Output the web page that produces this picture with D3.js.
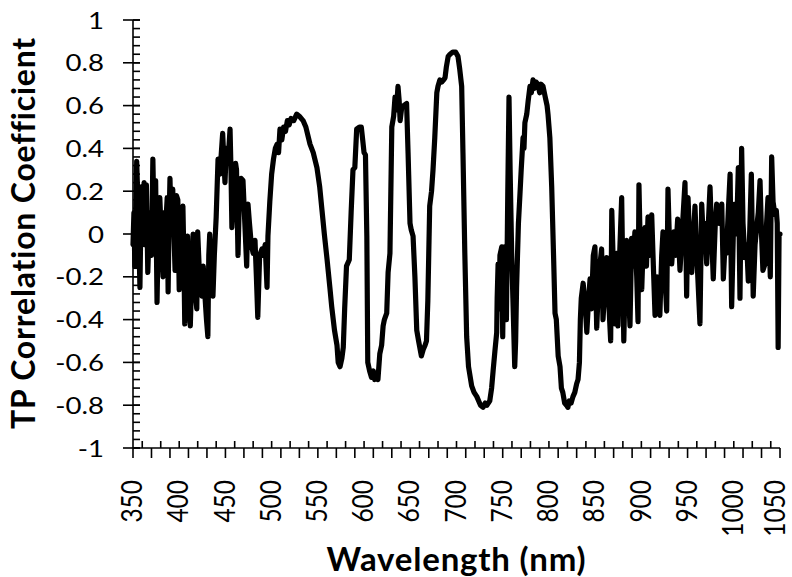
<!DOCTYPE html>
<html lang="en">
<head>
    <meta charset="UTF-8">
    <title>TP Correlation Coefficient</title>
    <script src="https://d3js.org/d3.v7.min.js"></script>
</head>

<style type="text/css">
    body {
        margin: 0;
        background-color: white;
    }
    text {
        font-family: Lato, "Open Sans", sans-serif;
        fill: black;
    }
</style>
<body>
<div id="chart"></div>

<script>
    // wavelength (nm) and correlation coefficient
    var wavelength = [
        350, 351, 352, 354, 356, 357.5, 359, 360.5, 362, 363,
        364.5, 366, 368, 370, 371.5, 373, 374.5, 376, 377.5, 379,
        381, 382.5, 384, 385.5, 387, 388, 389, 390, 391.5, 393,
        394, 395.5, 397, 398.5, 400, 402, 404, 405, 406, 407.5,
        409, 410.5, 412, 413.5, 415, 417, 419, 420, 422, 424.5,
        426, 428, 429.5, 431, 432, 433, 435, 436.5, 438, 440,
        442, 444, 447, 448.5, 449.5, 451, 453, 455, 456, 457,
        459, 461, 462, 463.6, 465, 467, 469, 471, 473, 474.4,
        476, 478, 480, 482, 483.5, 485, 487, 489.6, 491, 493,
        495, 496, 498, 500, 502, 504, 506, 507.5, 509, 511,
        513, 515, 517, 519, 521, 524, 527, 530, 534, 537,
        541.5, 545, 549, 552, 554.5, 557, 560, 563, 565, 568,
        570.7, 572, 574, 576, 577.5, 579, 581, 584, 586, 588,
        590, 592, 595, 597, 598.5, 600, 601.5, 603, 604, 606,
        608, 610, 611.5, 613.6, 615, 617, 619, 620.6, 622, 624.5,
        626, 628, 630, 632, 633.5, 635, 636.7, 638, 639, 640.7,
        643, 646, 647.6, 649.7, 651, 653, 655, 657, 659, 662,
        664, 666, 667.5, 669, 671, 673, 674.6, 676.5, 678.7, 680,
        682, 684, 686, 687.6, 689, 691, 693, 696, 699, 701.6,
        703.5, 705.6, 707, 709, 711, 713, 716.4, 719, 722, 724,
        726, 728.7, 731, 733, 736, 738, 739.6, 741.5, 743.5, 744,
        745, 746, 747, 749, 750, 751, 752, 753, 754, 755.5,
        756.8, 758, 759.7, 761, 763, 764, 765, 767, 768.7, 770,
        772, 773, 774, 776, 777.5, 779.5, 781, 782.8, 784, 786,
        788, 790, 791.5, 793.6, 796, 798, 799, 801, 803, 805,
        806.6, 808, 810, 812, 813.5, 815, 817, 819, 820.5, 822,
        824, 826, 828, 830, 831.5, 833, 834, 835, 837, 839,
        841, 843, 844.5, 846, 848, 849.8, 851.7, 853.5, 855, 857,
        858.5, 860.5, 862.5, 864.5, 866.8, 868, 870, 871.5, 873.3, 874.7,
        876.5, 878.7, 881, 882.5, 884, 886, 887.7, 889.5, 891, 893,
        895, 896.4, 897.4, 899, 900.4, 902, 904, 905.5, 907.2, 909,
        911.2, 913, 914.8, 917, 920, 922, 923.4, 925.5, 927.4, 928.8,
        930.5, 932.8, 935.3, 937, 939.3, 941.8, 944, 947.2, 949, 950.5,
        952.5, 954.5, 956, 958, 960, 963.4, 965.3, 967, 968.5, 970.7,
        972.5, 974.3, 976, 977.8, 980, 981.5, 984, 987, 988.7, 990.5,
        992, 994, 996, 997.7, 999.5, 1001.3, 1003, 1004.9, 1006.7, 1008.5,
        1010, 1012, 1014, 1015.7, 1017.5, 1019, 1021, 1023, 1024.8, 1026.5,
        1028.4, 1030, 1031.5, 1033.8, 1035.5, 1037, 1038.5, 1039.5, 1041, 1042.5,
        1044.5, 1046, 1047, 1048, 1049, 1050
    ];

    var coeff = [
        -0.05, 0.10, -0.15, 0.34, 0.05, -0.25, 0.22, 0.0, 0.24, -0.05,
        0.23, -0.18, 0.10, -0.10, 0.35, 0.0, 0.25, -0.32, 0.05, 0.17,
        -0.05, -0.20, 0.10, 0.05, 0.17, -0.27, 0.05, 0.26, 0.0, 0.21,
        0.05, -0.17, 0.18, 0.16, -0.26, 0.05, 0.13, -0.10, -0.42, -0.10,
        -0.01, -0.30, -0.43, -0.20, 0.0, -0.25, -0.35, 0.01, -0.20, -0.29,
        -0.15, -0.30, -0.40, -0.48, -0.10, 0.0, -0.25, -0.29, -0.10, 0.08,
        0.35, 0.28, 0.47, 0.33, 0.24, 0.40, 0.35, 0.49, 0.30, 0.03,
        0.20, 0.33, 0.30, -0.10, 0.15, 0.26, 0.25, 0.05, -0.15, 0.14,
        0.05, -0.05, -0.09, -0.03, -0.20, -0.39, -0.10, -0.07, -0.10, -0.05,
        -0.25, -0.01, 0.15, 0.28, 0.35, 0.40, 0.42, 0.38, 0.49, 0.44,
        0.50, 0.48, 0.53, 0.51, 0.54, 0.53, 0.56, 0.55, 0.53, 0.50,
        0.42, 0.38, 0.31, 0.22, 0.11, 0.0, -0.12, -0.25, -0.34, -0.45,
        -0.52, -0.60, -0.62, -0.58, -0.53, -0.35, -0.15, -0.12, 0.10, 0.30,
        0.31, 0.49, 0.50, 0.50, 0.44, 0.38, 0.37, -0.01, -0.60, -0.64,
        -0.67, -0.64, -0.68, -0.66, -0.68, -0.56, -0.52, -0.43, -0.40, -0.37,
        -0.18, -0.09, 0.50, 0.55, 0.64, 0.58, 0.69, 0.62, 0.53, 0.59,
        0.60, 0.61, 0.38, 0.05, 0.02, -0.01, -0.20, -0.45, -0.50, -0.57,
        -0.54, -0.52, -0.50, -0.31, 0.13, 0.20, 0.30, 0.45, 0.66, 0.69,
        0.72, 0.71, 0.72, 0.73, 0.78, 0.83, 0.84, 0.85, 0.85, 0.83,
        0.77, 0.69, 0.38, -0.09, -0.48, -0.62, -0.71, -0.74, -0.76, -0.78,
        -0.80, -0.81, -0.79, -0.80, -0.78, -0.72, -0.64, -0.55, -0.46, -0.30,
        -0.14, -0.35, -0.10, -0.06, -0.48, -0.15, -0.06, -0.25, -0.40, 0.20,
        0.64, 0.30, -0.09, -0.30, -0.62, -0.50, -0.25, 0.05, 0.19, 0.30,
        0.45, 0.40, 0.52, 0.56, 0.62, 0.69, 0.66, 0.72, 0.68, 0.71,
        0.70, 0.66, 0.70, 0.69, 0.64, 0.60, 0.56, 0.45, 0.22, -0.10,
        -0.37, -0.40, -0.57, -0.62, -0.72, -0.74, -0.79, -0.80, -0.81, -0.78,
        -0.79, -0.76, -0.74, -0.70, -0.68, -0.60, -0.40, -0.30, -0.23, -0.32,
        -0.46, -0.30, -0.21, -0.35, -0.10, -0.06, -0.44, -0.25, -0.15, -0.07,
        -0.40, -0.25, -0.11, -0.30, -0.50, 0.11, -0.20, -0.42, -0.09, -0.43,
        -0.10, 0.17, -0.50, -0.20, -0.03, -0.25, -0.43, -0.02, -0.15, 0.01,
        -0.20, -0.41, 0.23, -0.10, -0.26, -0.05, 0.03, -0.15, 0.08, -0.10,
        0.09, -0.15, -0.38, -0.20, -0.38, -0.10, 0.01, -0.20, -0.36, 0.21,
        -0.05, -0.14, 0.01, -0.10, 0.07, -0.17, 0.0, 0.24, -0.29, 0.17,
        -0.05, -0.18, -0.05, 0.13, -0.10, -0.42, 0.14, -0.02, 0.05, -0.14,
        0.05, 0.22, 0.0, -0.21, 0.05, 0.14, 0.05, 0.14, -0.21, -0.05,
        -0.09, 0.10, 0.28, -0.34, 0.0, 0.14, 0.0, 0.31, -0.30, 0.40,
        0.05, -0.11, -0.05, -0.22, 0.05, 0.28, -0.29, -0.05, 0.03, 0.10,
        0.25, 0.0, -0.17, -0.14, 0.05, 0.17, -0.05, -0.20, 0.36, 0.15,
        0.09, 0.11, 0.05, -0.53, 0.0, 0.0
    ];

    var xTickLabels = [350, 400, 450, 500, 550, 600, 650, 700, 750, 800, 850, 900, 950, 1000, 1050];
    var yTickValues = [-1, -0.8, -0.6, -0.4, -0.2, 0, 0.2, 0.4, 0.6, 0.8, 1];
    var yTickLabels = ["-1", "-0.8", "-0.6", "-0.4", "-0.2", "0", "0.2", "0.4", "0.6", "0.8", "1"];

    if (wavelength.length != coeff.length) console.error("length mismatch", wavelength.length, coeff.length);

    var width = 792;
    var height = 577;
    var plotLeft = 133, plotRight = 780, plotTop = 20, plotBottom = 448;

    var svg = d3.select("#chart").append("svg")
        .attr("width", width).attr("height", height);

    var x = d3.scaleLinear().domain([350, 1050]).range([plotLeft, plotRight]);
    var y = d3.scaleLinear().domain([-1, 1]).range([plotBottom, plotTop]);

    var axisColor = "black";
    var axisWidth = 1.6;

    // y axis
    var yaxis = svg.append("g");
    yaxis.append("line")
        .attr("x1", plotLeft).attr("x2", plotLeft)
        .attr("y1", y(1)).attr("y2", y(-1))
        .style("stroke", axisColor).style("stroke-width", axisWidth);

    yaxis.selectAll(".yminor")
        .data(d3.range(-25, 26).map(function (i) { return i * 0.04; }))
        .enter().append("line").attr("class", "yminor")
        .attr("x1", plotLeft).attr("x2", plotLeft + 7)
        .attr("y1", function (d) { return y(d); })
        .attr("y2", function (d) { return y(d); })
        .style("stroke", axisColor).style("stroke-width", axisWidth);

    yaxis.selectAll(".ymajor")
        .data(yTickValues)
        .enter().append("line").attr("class", "ymajor")
        .attr("x1", plotLeft - 10).attr("x2", plotLeft + 7)
        .attr("y1", function (d) { return y(d); })
        .attr("y2", function (d) { return y(d); })
        .style("stroke", axisColor).style("stroke-width", axisWidth);

    yaxis.selectAll(".ylabel")
        .data(yTickValues)
        .enter().append("text").attr("class", "ylabel")
        .attr("transform", function (d) { return "translate(104," + y(d) + ") scale(1.15,1)"; })
        .attr("dy", "0.36em")
        .style("text-anchor", "end")
        .style("font-size", "24px")
        .text(function (d, i) { return yTickLabels[i]; });

    // x axis
    var xaxis = svg.append("g");
    xaxis.append("line")
        .attr("x1", x(350)).attr("x2", x(1050))
        .attr("y1", plotBottom).attr("y2", plotBottom)
        .style("stroke", axisColor).style("stroke-width", axisWidth);

    xaxis.selectAll(".xminor")
        .data(d3.range(360, 1050, 20))
        .enter().append("line").attr("class", "xminor")
        .attr("x1", function (d) { return x(d); })
        .attr("x2", function (d) { return x(d); })
        .attr("y1", plotBottom).attr("y2", plotBottom - 7)
        .style("stroke", axisColor).style("stroke-width", axisWidth);

    xaxis.selectAll(".xmajor")
        .data(d3.range(350, 1051, 20))
        .enter().append("line").attr("class", "xmajor")
        .attr("x1", function (d) { return x(d); })
        .attr("x2", function (d) { return x(d); })
        .attr("y1", plotBottom).attr("y2", plotBottom + 10)
        .style("stroke", axisColor).style("stroke-width", axisWidth);

    // last label sits a bit left of its tick so it stays inside the page
    xaxis.selectAll(".xlabel")
        .data(xTickLabels)
        .enter().append("text").attr("class", "xlabel")
        .attr("transform", function (d) {
            var px = Math.min(x(d) - 1, 775);
            return "translate(" + px + ",480) scale(1.15,1) rotate(-90)";
        })
        .attr("dy", "0.36em")
        .style("text-anchor", "end")
        .style("font-size", "24.5px")
        .text(function (d) { return d; });

    // titles
    svg.append("text")
        .attr("transform", "translate(35,233) rotate(-90)")
        .style("text-anchor", "middle")
        .style("font-size", "32px")
        .style("font-weight", "bold")
        .style("letter-spacing", "0.8px")
        .text("TP Correlation Coefficient");

    svg.append("text")
        .attr("x", (plotLeft + plotRight) / 2)
        .attr("y", 571)
        .style("text-anchor", "middle")
        .style("font-size", "33px")
        .style("font-weight", "bold")
        .style("letter-spacing", "0.8px")
        .text("Wavelength (nm)");

    // spectrum line
    var line = d3.line()
        .x(function (d, i) { return x(wavelength[i]); })
        .y(function (d) { return y(d); });

    svg.append("path")
        .datum(coeff)
        .attr("d", line)
        .style("fill", "none")
        .style("stroke", "black")
        .style("stroke-width", 5.2)
        .style("stroke-linejoin", "round")
        .style("stroke-linecap", "round");
</script>

</body>
</html>
